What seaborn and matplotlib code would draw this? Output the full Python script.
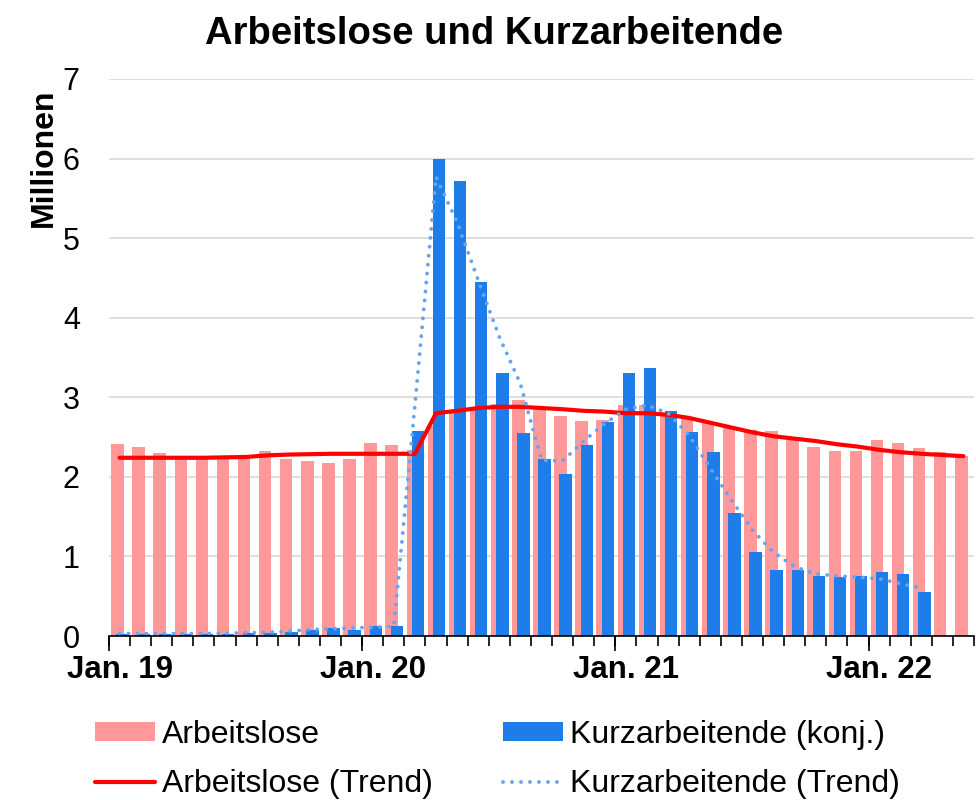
"""
Arbeitslose und Kurzarbeitende, Jan. 2019 - Mai 2022 (Millionen)
"""
import numpy as np
import pandas as pd
import seaborn as sns
import matplotlib.pyplot as plt
from matplotlib.lines import Line2D
from matplotlib.patches import Patch

# Monate Jan. 2019 bis Mai 2022
monate = pd.date_range('2019-01-01', '2022-05-01', freq='MS')

arbeitslose = [2.41, 2.37, 2.30, 2.23, 2.24, 2.22, 2.28, 2.32, 2.23, 2.20, 2.18, 2.23,
               2.43, 2.40, 2.34, 2.64, 2.81, 2.85, 2.91, 2.96, 2.85, 2.76, 2.70, 2.71,
               2.90, 2.90, 2.80, 2.75, 2.69, 2.61, 2.59, 2.58, 2.47, 2.38, 2.32, 2.33,
               2.46, 2.43, 2.36, 2.31, 2.26]

kurzarbeit = [0.02, 0.02, 0.02, 0.02, 0.03, 0.03, 0.04, 0.035, 0.05, 0.08, 0.10, 0.08,
              0.12, 0.12, 2.58, 6.00, 5.72, 4.45, 3.31, 2.55, 2.23, 2.03, 2.40, 2.69,
              3.30, 3.37, 2.83, 2.56, 2.31, 1.55, 1.06, 0.83, 0.83, 0.76, 0.74, 0.76,
              0.81, 0.78, 0.55, np.nan, np.nan]

arbeitslose_trend = [2.24, 2.24, 2.24, 2.24, 2.24, 2.245, 2.25, 2.27, 2.28, 2.285, 2.29, 2.29,
                     2.29, 2.29, 2.29, 2.80, 2.83, 2.865, 2.88, 2.88, 2.865, 2.85, 2.83, 2.82,
                     2.80, 2.80, 2.78, 2.74, 2.68, 2.62, 2.56, 2.51, 2.48, 2.45, 2.41, 2.38,
                     2.34, 2.31, 2.29, 2.275, 2.26]

kurzarbeit_trend = [0.03, 0.03, 0.03, 0.03, 0.03, 0.035, 0.04, 0.045, 0.06, 0.08, 0.09, 0.10,
                    0.11, 0.12, 2.90, 5.77, 5.20, 4.47, 3.76, 3.17, 2.21, 2.20, 2.45, 2.67,
                    2.85, 2.90, 2.80, 2.52, 2.11, 1.71, 1.33, 1.05, 0.87, 0.78, 0.755, 0.74,
                    0.72, 0.66, 0.60, np.nan, np.nan]

x_labels = ['Jan. 19', 'Jan. 20', 'Jan. 21', 'Jan. 22']
legende = ['Arbeitslose', 'Arbeitslose (Trend)',
           'Kurzarbeitende (konj.)', 'Kurzarbeitende (Trend)']

ROSA = '#ff9999'
BLAU = '#1e7de9'
ROT = '#ff0000'
HELLBLAU = '#68a4ed'
PUNKTE = (0, (0.01, 2.3))

df = pd.DataFrame({
    'pos': np.arange(len(monate)),
    'arbeitslose': arbeitslose,
    'kurzarbeit': kurzarbeit,
    'arbeitslose_trend': arbeitslose_trend,
    'kurzarbeit_trend': kurzarbeit_trend,
})

sns.set_style('white')
plt.rcParams['font.family'] = ['Liberation Sans', 'DejaVu Sans']
plt.rcParams['text.color'] = 'black'
plt.rcParams['axes.labelcolor'] = 'black'
plt.rcParams['xtick.color'] = 'black'
plt.rcParams['ytick.color'] = 'black'

fig = plt.figure(figsize=(9.76, 8), dpi=100)
ax = fig.add_axes([109 / 976, 1 - 636 / 800, 865 / 976, 557 / 800])

# Balken: Arbeitslose etwas links, Kurzarbeitende etwas rechts im Monat
sns.barplot(x=df['pos'] - 0.10, y=df['arbeitslose'], native_scale=True, orient='x',
            width=0.59, color=ROSA, saturation=1, linewidth=0, errorbar=None, ax=ax)
kurz = df.dropna(subset=['kurzarbeit'])
sns.barplot(x=kurz['pos'] + 0.145, y=kurz['kurzarbeit'], native_scale=True, orient='x',
            width=0.59, color=BLAU, saturation=1, linewidth=0, errorbar=None, ax=ax)

# Trendlinien
sns.lineplot(x=df['pos'], y=df['arbeitslose_trend'], color=ROT, linewidth=3,
             solid_capstyle='round', ax=ax)
sns.lineplot(x=df['pos'], y=df['kurzarbeit_trend'], color=HELLBLAU, linewidth=2.8,
             linestyle=PUNKTE, dash_capstyle='round', ax=ax)

ax.set_xlim(-0.5, len(monate) - 0.5)
ax.set_ylim(0, 7)
ax.set_xlabel('')
ax.set_ylabel('Millionen', fontsize=23, fontweight='bold')
ax.yaxis.set_label_coords(-0.0585, 0.858)

ax.set_yticks(range(0, 8))
ax.tick_params(axis='y', length=0, pad=21, labelsize=22, colors='black')
ax.yaxis.grid(True, color='#d9d9d9', linewidth=1.2)
ax.set_axisbelow(True)

# Beschriftung in der Monatsmitte, Striche an den Monatsgrenzen
ax.set_xticks([0, 12, 24, 36])
ax.set_xticklabels(x_labels, fontsize=22.5, fontweight='bold')
ax.tick_params(axis='x', which='major', bottom=True, length=0, pad=14)
ax.set_xticks(np.arange(-0.5, len(monate), 1), minor=True)
ax.tick_params(axis='x', which='minor', bottom=True, length=7, width=1.2,
               color='black', direction='out')

jahre = ax.secondary_xaxis('bottom')
jahre.set_xticks([-0.5, 11.5, 23.5, 35.5])
jahre.set_xticklabels([])
jahre.tick_params(bottom=True, length=11, width=1.2, color='black', direction='out')
jahre.spines['bottom'].set_visible(False)

for s in ['left', 'right', 'top']:
    ax.spines[s].set_visible(False)
ax.spines['bottom'].set_color('black')
ax.spines['bottom'].set_linewidth(1.2)

fig.text(0.506, 1 - 44 / 800, 'Arbeitslose und Kurzarbeitende', ha='center',
         va='baseline', fontsize=27.5, fontweight='bold')

handles = [Patch(facecolor=ROSA, edgecolor='none'),
           Line2D([], [], color=ROT, linewidth=3),
           Patch(facecolor=BLAU, edgecolor='none'),
           Line2D([], [], color=HELLBLAU, linewidth=2.8, linestyle=PUNKTE,
                  dash_capstyle='round')]
fig.legend(handles, legende, loc='upper left', bbox_to_anchor=(95 / 976, 1 - 720 / 800),
           ncol=2, frameon=False, fontsize=23, handlelength=1.87, handleheight=0.55,
           handletextpad=0.23, columnspacing=2.2, labelspacing=0.6, borderpad=0,
           borderaxespad=0)

fig.savefig('out.png', dpi=100)
